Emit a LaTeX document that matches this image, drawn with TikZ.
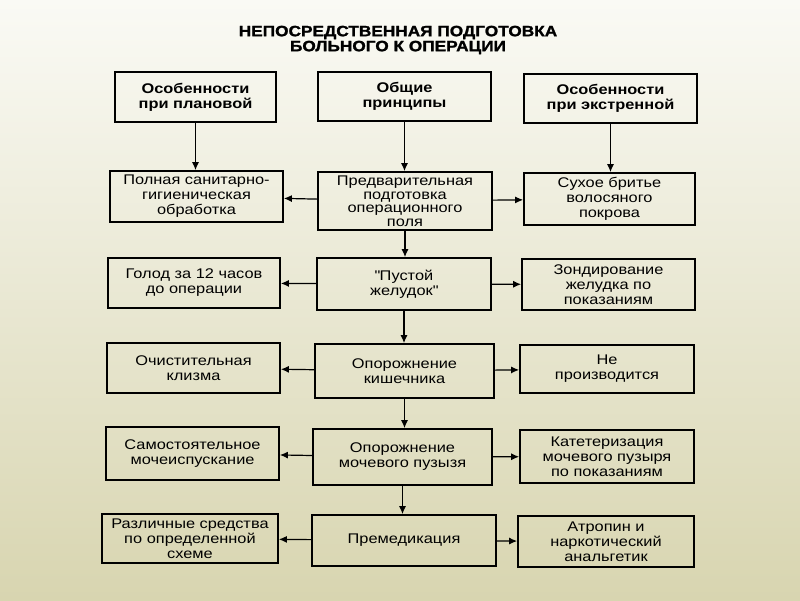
\documentclass[tikz,border=0pt]{standalone}
\usepackage{fontspec}
\setmainfont[FakeStretch=1.17]{Liberation Sans}
\newfontfamily\titlefont[FakeStretch=1.15,FakeBold=1.5]{Liberation Sans Bold}
\usetikzlibrary{arrows.meta}
\definecolor{bgtop}{HTML}{FAFAF5}
\definecolor{bgbot}{HTML}{D8D5B0}
\begin{document}
\begin{tikzpicture}[x=1pt,y=-1pt,
    box/.style={draw, line width=1.7pt, align=center, inner sep=0pt,
      font=\fontsize{14}{15}\selectfont},
    head/.style={box, font=\bfseries\fontsize{14}{15}\selectfont},
    arr/.style={line width=1.2pt, -{Latex[length=8pt,width=7pt]}}]
  \shade[top color=bgtop, bottom color=bgbot] (0,0) rectangle (800,600);
  \node[font=\titlefont\fontsize{15}{15}\selectfont, align=center] (t) at (398,40)
    {НЕПОСРЕДСТВЕННАЯ ПОДГОТОВКА\\БОЛЬНОГО К ОПЕРАЦИИ};
  \node[head, minimum width=161, minimum height=50] (a) at (195.5,97) {Особенности\\при плановой};
  \node[head, minimum width=173, minimum height=49] (b) at (404.5,96.5) {Общие\\принципы};
  \node[head, minimum width=173, minimum height=49] (c) at (610.5,98.5) {Особенности\\при экстренной};
  \node[box, minimum width=173, minimum height=51] (d) at (196.5,196.5) {Полная санитарно-\\гигиеническая\\обработка};
  \node[box, minimum width=174, minimum height=58, font=\fontsize{14}{13.5}\selectfont] (e) at (405,201)
    {Предварительная\\подготовка\\операционного\\поля};
  \node[box, minimum width=171, minimum height=52] (f) at (609.5,199) {Сухое бритье\\волосяного\\покрова};
  \node[box, minimum width=172, minimum height=50] (g) at (194,283) {Голод за 12 часов\\до операции};
  \node[box, minimum width=174, minimum height=52] (h) at (404,284) {\textquotedbl Пустой\\желудок\textquotedbl};
  \node[box, minimum width=173, minimum height=51] (i) at (608.5,284.5) {Зондирование\\желудка по\\показаниям};
  \node[box, minimum width=173, minimum height=50] (j) at (193.5,368) {Очистительная\\клизма};
  \node[box, minimum width=179, minimum height=54] (k) at (404.5,371) {Опорожнение\\кишечника};
  \node[box, minimum width=174, minimum height=48] (l) at (607,369) {Не\\производится};
  \node[box, minimum width=173, minimum height=53] (m) at (192.5,453.5) {Самостоятельное\\мочеиспускание};
  \node[box, minimum width=179, minimum height=56] (n) at (402.5,457) {Опорожнение\\мочевого пузызя};
  \node[box, minimum width=174, minimum height=53] (o) at (607,456.5) {Катетеризация\\мочевого пузыря\\по показаниям};
  \node[box, minimum width=176, minimum height=49] (p) at (190,538.5) {Различные средства\\по определенной\\схеме};
  \node[box, minimum width=184, minimum height=51] (q) at (404,540.5) {Премедикация};
  \node[box, minimum width=176, minimum height=51] (r) at (606,541.5) {Атропин и\\наркотический\\анальгетик};
  \foreach \s/\t in {a/d,b/e,c/f,e/h,h/k,k/n,n/q}
    \draw[arr] (\s.south) -- (\s.south |- \t.north);
  \foreach \s/\t in {e/d,e/f,h/g,h/i,k/j,k/l,n/m,n/o,q/p,q/r}
    \draw[arr] (\s) -- (\t);
\end{tikzpicture}
\end{document}
